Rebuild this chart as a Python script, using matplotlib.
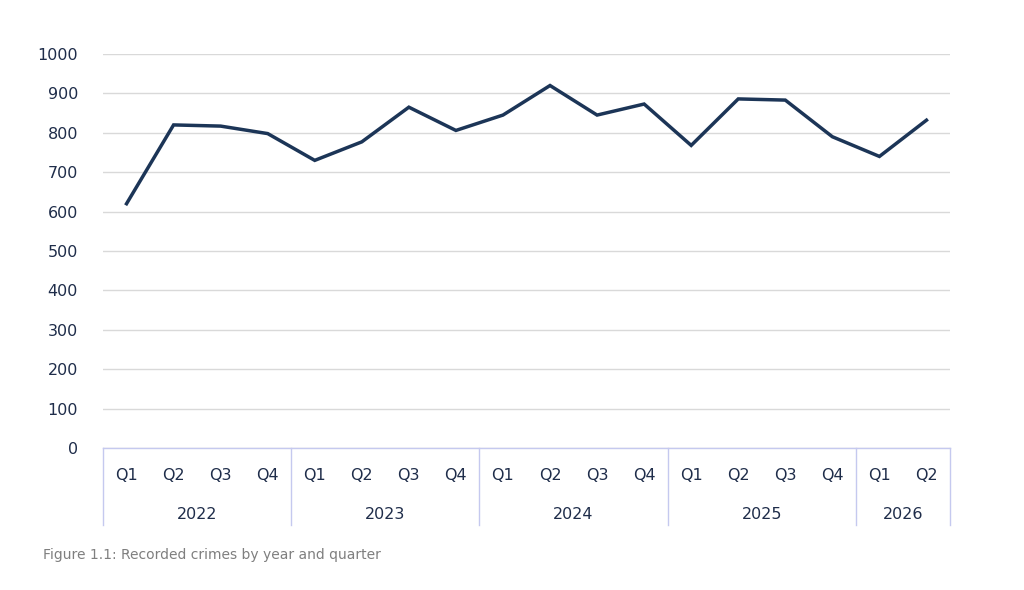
import matplotlib.pyplot as plt
import matplotlib.transforms as mtransforms

years = ["2022", "2023", "2024", "2025", "2026"]
quarters_per_year = [4, 4, 4, 4, 2]
quarter_labels = ["Q1", "Q2", "Q3", "Q4"] * 4 + ["Q1", "Q2"]
crimes = [620, 820, 817, 798,
          730, 777, 865, 806,
          845, 920, 845, 873,
          768, 886, 883, 790,
          740, 832]

text_col = "#1f2d4a"
sep_col = "#c5c9ef"

fig = plt.figure(figsize=(10.24, 5.9), dpi=100)
ax = fig.add_axes([103 / 1024, (590 - 448) / 590, 847 / 1024, 394 / 590])

x = list(range(len(crimes)))
ax.plot(x, crimes, color="#1c3557", linewidth=2.5, solid_joinstyle="miter")

ax.set_xlim(-0.5, len(crimes) - 0.5)
ax.set_ylim(0, 1000)
ax.set_yticks(range(0, 1001, 100))
ax.tick_params(axis="y", length=0, labelsize=11.5, labelcolor=text_col, pad=18)
ax.grid(axis="y", color="#d9d9d9", linewidth=1)
ax.set_axisbelow(True)
for s in ax.spines.values():
    s.set_visible(False)
ax.set_xticks([])
ax.axhline(0, color=sep_col, linewidth=1, clip_on=False)

trans = mtransforms.blended_transform_factory(ax.transData, ax.transAxes)
# quarter labels
for i, q in enumerate(quarter_labels):
    ax.text(i, -0.07, q, transform=trans, ha="center", va="center",
            fontsize=11.5, color=text_col)
# year labels and separators
start = 0
bounds = [-0.5]
for y, n in zip(years, quarters_per_year):
    mid = start + (n - 1) / 2
    ax.text(mid, -0.17, y, transform=trans, ha="center", va="center",
            fontsize=11.5, color=text_col)
    start += n
    bounds.append(start - 0.5)
for b in bounds:
    ax.plot([b, b], [0, -0.195], transform=trans, color=sep_col,
            linewidth=1, clip_on=False)

fig.text(43 / 1024, 1 - 555 / 590, "Figure 1.1: Recorded crimes by year and quarter",
         fontsize=10, color="#7f7f7f", va="center")

fig.savefig("out.png", dpi=100)
